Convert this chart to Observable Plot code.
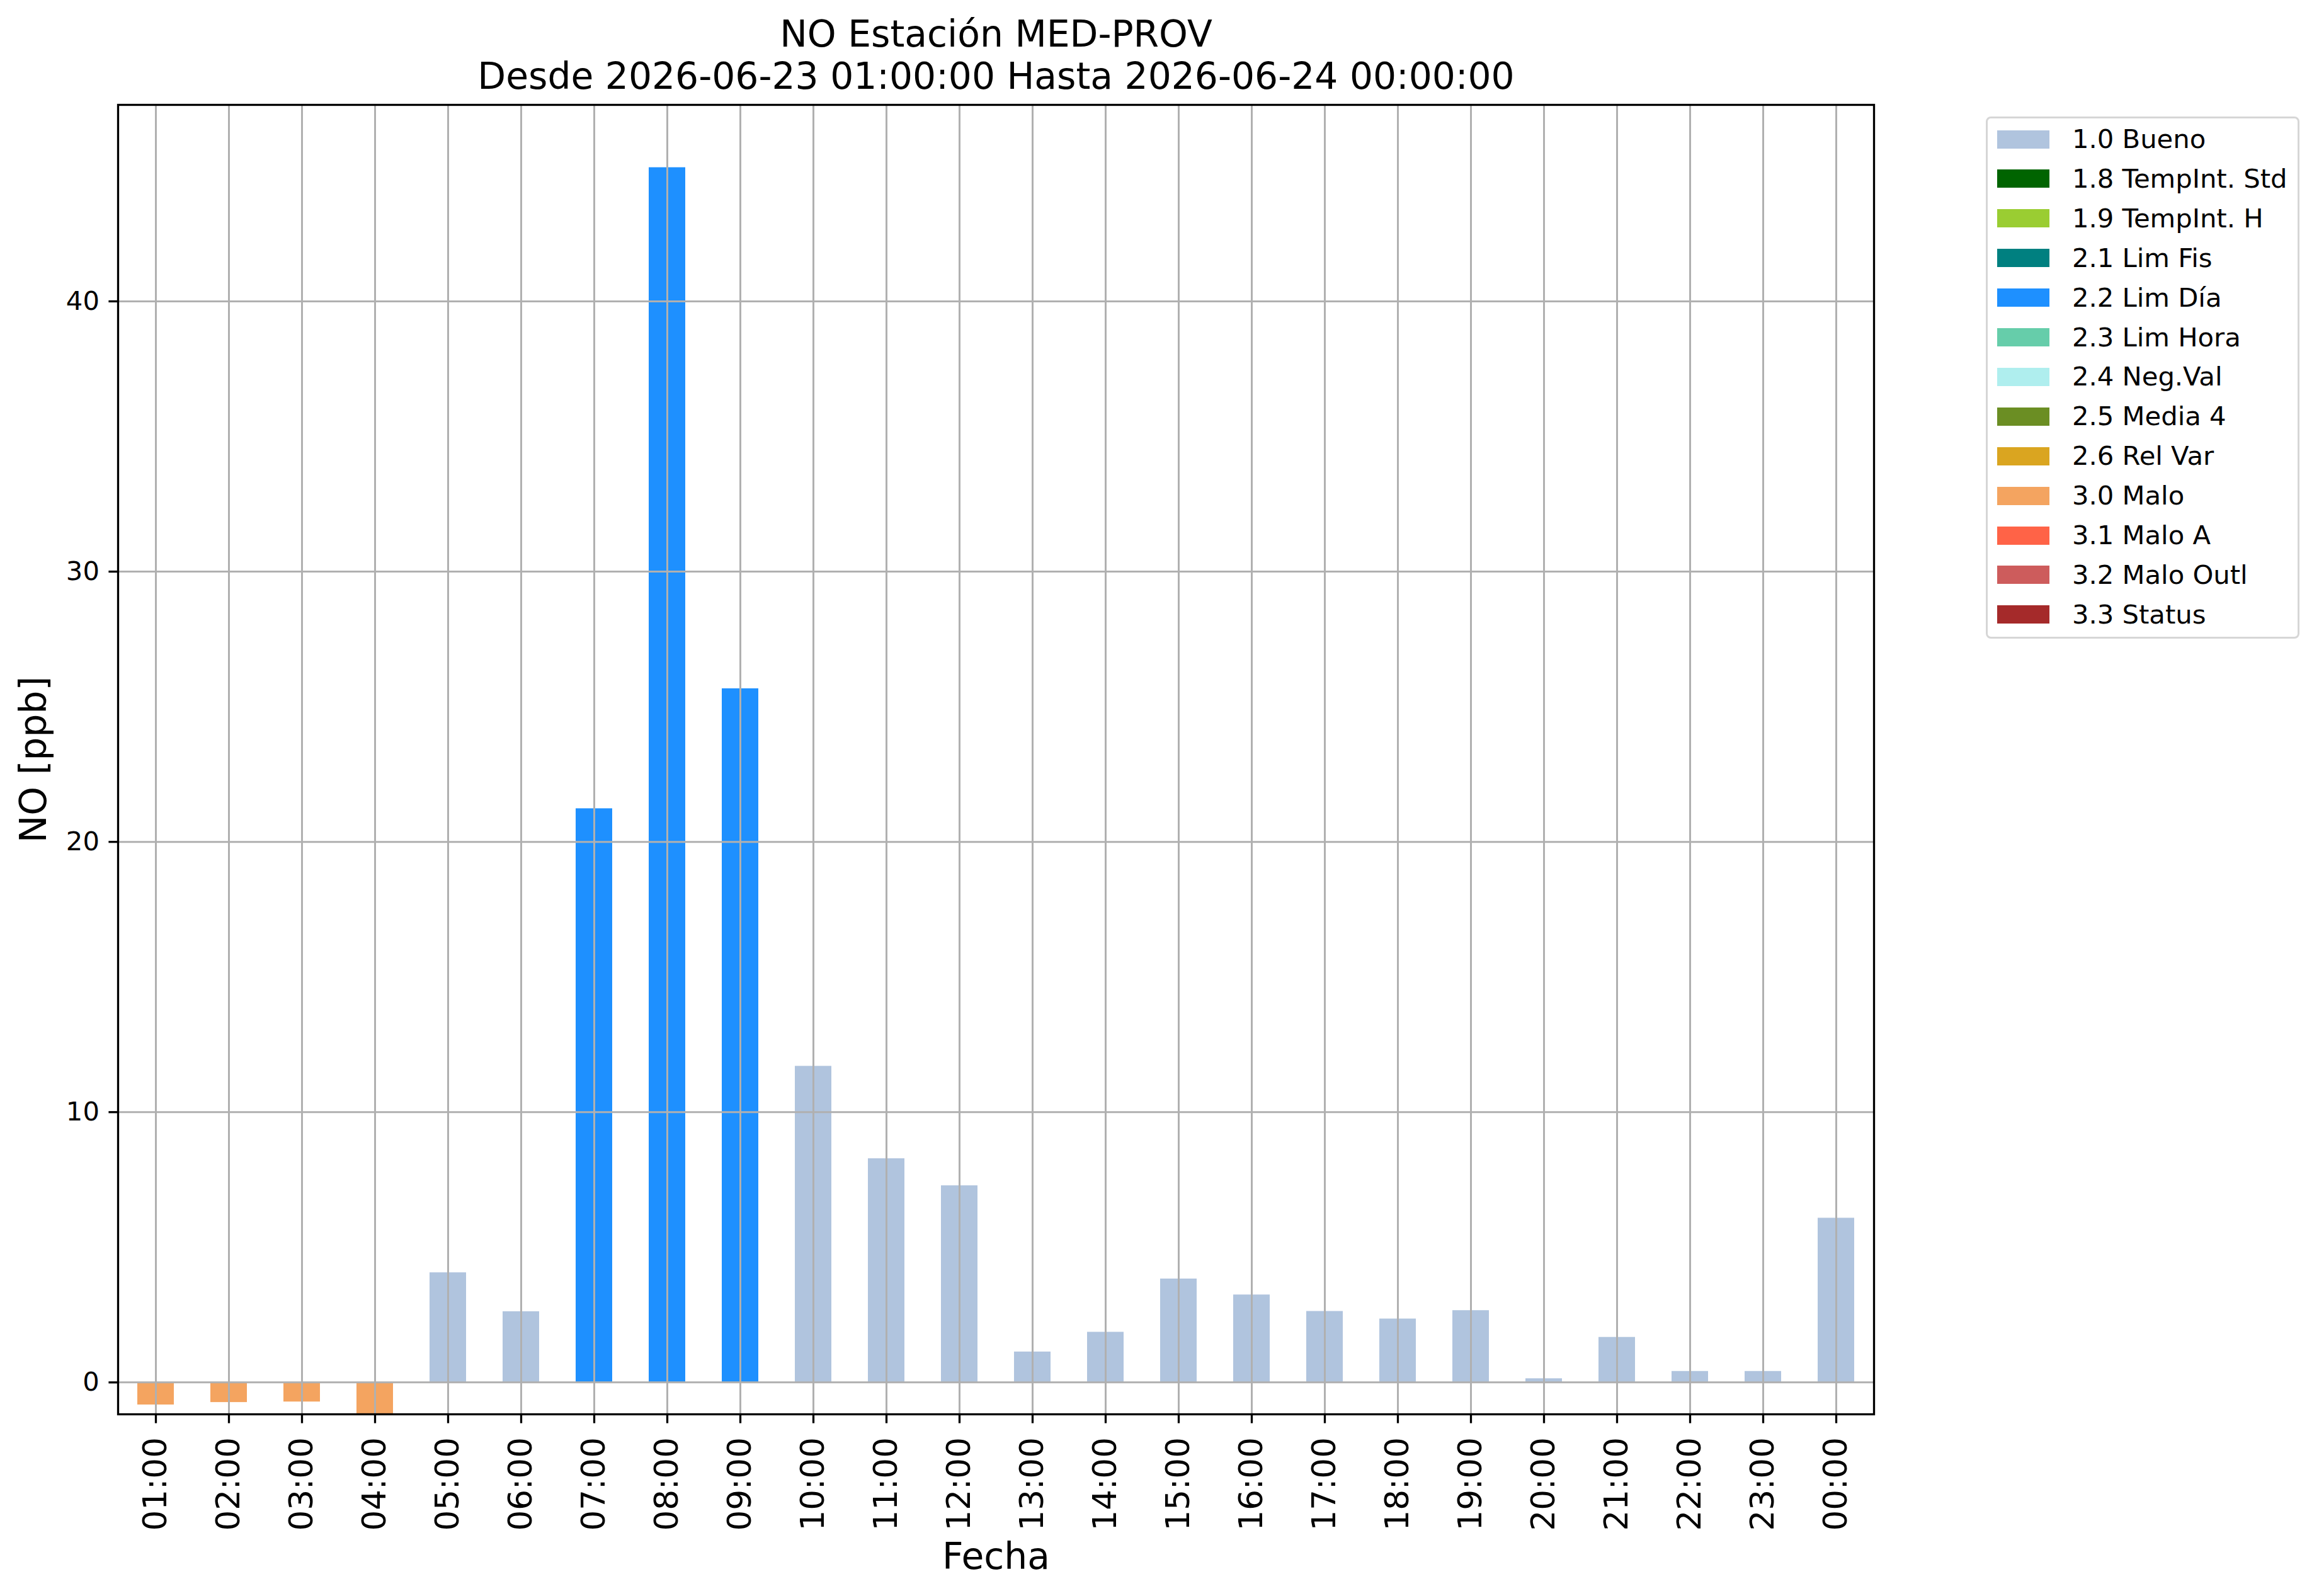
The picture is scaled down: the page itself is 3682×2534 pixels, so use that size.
<!DOCTYPE html>
<html>
<head>
<meta charset="utf-8">
<script src="https://cdn.jsdelivr.net/npm/d3@7"></script>
<script src="https://cdn.jsdelivr.net/npm/@observablehq/plot@0.6"></script>
<style>
  html, body { margin: 0; padding: 0; background: white; }
  #wrap { position: relative; width: 3682px; height: 2534px; background: white; font-family: "DejaVu Sans", sans-serif; }
  #chart { position: absolute; left: 0; top: 0; }
  #legend { position: absolute; left: 3153px; top: 185px; width: 492px; height: 823px;
            border: 3px solid #d6d6d6; border-radius: 8px; background: white; box-sizing: content-box; }
  .lsw { position: absolute; left: 15px; width: 83px; height: 29px; }
  .ltx { position: absolute; left: 134px; font-size: 41.7px; white-space: nowrap; color: black; line-height: 1; }
</style>
</head>
<body>
<div id="wrap">
  <div id="chart"></div>
  <div id="legend"></div>
</div>
<script>
// ---- data ----
const hours = ["01:00","02:00","03:00","04:00","05:00","06:00","07:00","08:00","09:00","10:00","11:00","12:00",
               "13:00","14:00","15:00","16:00","17:00","18:00","19:00","20:00","21:00","22:00","23:00","00:00"];
const values = [-0.83, -0.74, -0.72, -1.4, 4.06, 2.62, 21.23, 44.95, 25.67, 11.7, 8.28, 7.28,
                1.13, 1.86, 3.83, 3.24, 2.63, 2.35, 2.66, 0.14, 1.67, 0.41, 0.41, 6.08];
const flags = ["3.0 Malo","3.0 Malo","3.0 Malo","3.0 Malo","1.0 Bueno","1.0 Bueno",
               "2.2 Lim Día","2.2 Lim Día","2.2 Lim Día","1.0 Bueno","1.0 Bueno","1.0 Bueno",
               "1.0 Bueno","1.0 Bueno","1.0 Bueno","1.0 Bueno","1.0 Bueno","1.0 Bueno",
               "1.0 Bueno","1.0 Bueno","1.0 Bueno","1.0 Bueno","1.0 Bueno","1.0 Bueno"];
const legendLabels = ["1.0 Bueno","1.8 TempInt. Std","1.9 TempInt. H","2.1 Lim Fis","2.2 Lim Día","2.3 Lim Hora",
                      "2.4 Neg.Val","2.5 Media 4","2.6 Rel Var","3.0 Malo","3.1 Malo A","3.2 Malo Outl","3.3 Status"];
const legendColors = ["#b0c4de","#006400","#9acd32","#008080","#1e90ff","#66cdaa",
                      "#afeeee","#6b8e23","#daa520","#f4a460","#ff6347","#cd5c5c","#a52a2a"];
const yTicks = [0, 10, 20, 30, 40];
const yDomain = [-1.18, 47.27];
const titleLines = ["NO Estación MED-PROV", "Desde 2026-06-23 01:00:00 Hasta 2026-06-24 00:00:00"];
const yLabel = "NO [ppb]";
const xLabel = "Fecha";

const table = hours.map((h, i) => ({hour: h, value: values[i], flag: flags[i]}));

const grid = "#b0b0b0";
const chart = Plot.plot({
  width: 3682,
  height: 2534,
  marginLeft: 187,
  marginRight: 707,
  marginTop: 166,
  marginBottom: 289,
  style: {fontFamily: "DejaVu Sans", background: "white", overflow: "visible"},
  x: {domain: hours, paddingInner: 0.5, paddingOuter: 0.25, label: null},
  y: {domain: yDomain, label: null},
  color: {domain: legendLabels, range: legendColors},
  marks: [
    Plot.barY(table, {x: "hour", y1: 0, y2: "value", fill: "flag", clip: true}),
    Plot.ruleX(hours, {x: d => d, stroke: grid, strokeWidth: 3}),
    Plot.ruleY(yTicks, {y: d => d, stroke: grid, strokeWidth: 3}),
    Plot.frame({stroke: "black", strokeWidth: 3.3}),
    Plot.axisY(yTicks, {tickSize: 14.6, tickPadding: 15, fontSize: 41.7, stroke: "black", strokeWidth: 3.3, label: null}),
    Plot.axisX(hours, {tickSize: 14.6, tickPadding: 22, fontSize: 51.5, tickRotate: -90, stroke: "black", strokeWidth: 3.3, label: null}),
    Plot.text([yLabel], {frameAnchor: "left", dx: -133, rotate: -90, textAnchor: "middle", fontSize: 58.3, text: d => d, fill: "black"}),
    Plot.text([xLabel], {frameAnchor: "bottom", dy: 245, textAnchor: "middle", fontSize: 58.3, text: d => d, fill: "black"}),
    Plot.text([titleLines[0]], {frameAnchor: "top", dy: -93, textAnchor: "middle", fontSize: 58.3, text: d => d, fill: "black", lineAnchor: "bottom"}),
    Plot.text([titleLines[1]], {frameAnchor: "top", dy: -26, textAnchor: "middle", fontSize: 58.3, text: d => d, fill: "black", lineAnchor: "bottom"})
  ]
});
document.getElementById("chart").appendChild(chart);

// ---- legend built from the same color scale ----
const colorScale = chart.scale("color");
const leg = d3.select("#legend");
colorScale.domain.forEach((lab, i) => {
  const cy = 33 + i * 62.9;
  leg.append("div").attr("class", "lsw")
    .style("top", (cy - 14.5) + "px")
    .style("background", colorScale.range[i]);
  leg.append("div").attr("class", "ltx")
    .style("top", (cy - 21) + "px")
    .text(lab);
});
</script>
</body>
</html>
